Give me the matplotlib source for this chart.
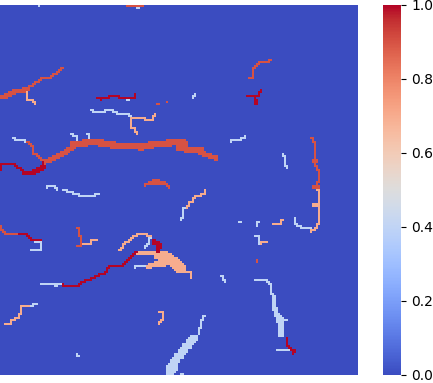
import numpy as np
import matplotlib
matplotlib.use('Agg')
import matplotlib.pyplot as plt
import seaborn as sns

n_rows = 185
n_cols = 179

# mask values
LIGHT = 0.4
PEACH = 0.7
ORANGE = 0.9
RED = 1.0

# traces as (col, row) vertices, suffix = width in cells
light_1 = [
    [(19, 0), (19, 0)],
    [(68, 1), (69, 1)],
    [(63, 47), (64, 47)],
    [(45, 52), (46, 53), (52, 53), (53, 52), (55, 52.5), (57, 53.5), (59, 54.5), (64, 54.5), (65, 55.5)],
    [(6.5, 66), (7, 67), (12.5, 67), (12.5, 68)],
    [(35, 64.5), (38, 65.5), (38.5, 69)],
    [(43, 64), (44.5, 64), (44.5, 69)],
    [(23, 91), (27, 90.5), (28, 92)],
    [(31.5, 92.5), (35, 93.5), (39, 95), (45, 95.5), (49, 94.5)],
    [(96, 46.5), (97.5, 44.5)],
    [(115.5, 68), (120, 67.5), (122, 66), (122.5, 65)],
    [(141, 74.5), (142.5, 76.5), (142.5, 80), (143.5, 81.5)],
    [(147.5, 106.5), (147, 109.5), (151, 111.5), (155, 112)],
    [(93, 101), (91, 102.5), (91, 106.5), (90, 107)],
    [(119, 108), (120, 108)],
    [(129, 108), (128, 110)],
    [(127, 115.5), (129, 116), (129, 119.5)],
    [(110, 135), (111, 135.5), (112, 138)],
    [(127.5, 137.5), (133, 137.5), (135, 140), (136, 145)],
    [(138, 172), (144, 172)],
    [(90, 184), (91, 184)],
    [(17, 118.5), (20.5, 118.5), (20.5, 122.5), (15, 122.5)],
    [(75, 116), (74.5, 119), (72.5, 121.5)],
    [(67.5, 131), (70, 130), (73, 130)],
    [(20, 139.5), (30.5, 139.5)],
    [(27, 140.5), (28, 140.5)],
    [(14.5, 150), (16.5, 150), (18.5, 149)],
    [(38, 174), (39, 175.5)],
    [(140, 157), (143, 157)],
    [(102.5, 155.5), (100.5, 158.5), (99.5, 164)],
]
light_2 = [
    [(136, 145), (136.5, 151), (138, 155)],
]
light_3 = [
    [(139, 156), (140, 158), (140.5, 164)],
    [(97, 166), (94, 170), (90, 175), (86, 180)],
]
light_4 = [
    [(86, 180), (84, 183)],
]

peach_1 = [
    [(12, 43.5), (13, 44), (13, 47), (16, 48), (17, 49)],
    [(65, 56), (72, 56), (73, 57.5), (76, 57), (77, 55.5), (77.5, 54)],
    [(65, 56), (65, 61), (67, 62), (68, 64)],
    [(158.5, 92.5), (159.5, 94), (159, 105.5), (159.5, 108.5), (158.5, 111.5), (155, 113)],
    [(102.5, 92.5), (102.5, 94.5), (98.5, 95.5), (96, 98), (93.5, 101)],
    [(136, 109), (140, 109), (141, 107)],
    [(130, 119), (133, 118.5)],
    [(90, 131), (92.5, 133), (95.5, 134), (95.5, 136)],
    [(41, 119.5), (45, 119.5), (45.5, 117.5), (48, 117.5)],
    [(59.5, 122.5), (62.5, 119), (66, 116.5), (70, 114), (75, 115.5)],
    [(2.5, 159.5), (5, 159), (5.5, 157.5), (8.5, 156.5), (10, 154), (11, 150), (14, 150)],
    [(79, 153), (81.5, 153), (81.5, 157.5), (79.5, 159.5)],
]
peach_2 = [
    [(156, 99.5), (158, 99.5)],
    [(68.5, 123.5), (78, 123.5)],
    [(73.5, 130.5), (80, 128)],
]
peach_4 = [
    [(78, 124), (83, 125.5), (87, 129), (90, 131.5)],
    [(80, 128), (84, 126.5)],
]

orange_1 = [
    [(63, 0), (71, 0)],
    [(13, 41.5), (17, 39.5), (20, 37), (25, 36), (29, 33.5), (31, 31.5), (31, 31)],
    [(13, 68), (14, 69), (16, 71), (16.5, 74.5), (18, 75), (21, 77.5), (22, 78)],
    [(78, 49), (79, 49)],
    [(83, 48), (83, 48)],
    [(124, 36.5), (126, 36), (127, 31), (129, 29), (134, 28.5), (135, 27)],
    [(155, 66), (156.5, 66.5), (157, 69), (157.5, 80), (158.5, 81), (159.5, 84), (159, 88), (158, 90.5)],
    [(128, 127), (128, 128)],
    [(0, 110.5), (1, 113), (2.5, 114.5), (8, 114.5)],
    [(38, 111.5), (39.5, 112), (40.5, 120), (38.5, 120.5)],
    [(72, 90), (76, 88), (78, 87.5), (82, 89), (84, 91)],
]
orange_2 = [
    [(0, 45.5), (4, 44.5), (6, 43), (13, 41.5)],
    [(21.5, 78), (26, 76), (33, 72.5), (36.5, 70)],
    [(156, 77), (157, 77)],
    [(156, 90), (158, 90)],
    [(100, 73.5), (107, 76)],
    [(75, 88.5), (81, 88.5)],
]
orange_3 = [
    [(36.5, 70), (42, 69), (47, 68.5), (56, 70), (70, 71), (78, 69.5), (90, 68.5)],
    [(93, 72), (100, 73)],
]
orange_5 = [
    [(90, 69.5), (91, 70.5)],
]

red_1 = [
    [(48.5, 46), (50, 47), (54, 46), (57, 45), (59, 46), (67, 46), (67, 44.5)],
    [(0, 82), (0.5, 79.5), (3, 79), (6, 79), (8, 80.5), (11, 82.5)],
    [(21.5, 80.5), (21.5, 78)],
    [(123, 45), (125, 45), (127, 46), (129, 45), (130.5, 42)],
    [(143.5, 166), (144, 171), (146, 172.5), (147.5, 173), (146, 174)],
    [(9.5, 114), (12, 114), (14, 115.5), (15.5, 117.5), (20, 117.5)],
    [(31, 139.5), (32.5, 140.5), (39, 140.5), (41, 138.5), (45, 137), (48, 135.5),
     (52.5, 134), (54, 131), (61, 130), (64, 127.5), (66.5, 125), (68, 123.5)],
]
red_2 = [
    [(11, 83), (16, 83), (19, 81.5), (21, 80.5)],
    [(127, 47), (127, 48)],
    [(76, 117.5), (79, 120), (78.5, 122.5)],
]


def paint(grid, traces, value, width):
    # stamp a square of width cells along every trace, stairs stay 4-connected
    lo = (width - 1) // 2
    for trace in traces:
        for (c0, r0), (c1, r1) in zip(trace[:-1], trace[1:]):
            steps = int(max(abs(c1 - c0), abs(r1 - r0)) * 2) + 1
            prev_r = int(r0)
            for t in np.linspace(0, 1, steps + 1):
                c = int(c0 + (c1 - c0) * t)
                r = int(r0 + (r1 - r0) * t)
                for rr in (prev_r, r):
                    grid[max(rr - lo, 0):rr - lo + width, max(c - lo, 0):c - lo + width] = value
                prev_r = r


mask = np.zeros((n_rows, n_cols))
paint(mask, light_1, LIGHT, 1)
paint(mask, light_2, LIGHT, 2)
paint(mask, light_3, LIGHT, 3)
paint(mask, light_4, LIGHT, 4)
paint(mask, peach_1, PEACH, 1)
paint(mask, peach_2, PEACH, 2)
paint(mask, peach_4, PEACH, 4)
paint(mask, orange_1, ORANGE, 1)
paint(mask, orange_2, ORANGE, 2)
paint(mask, orange_3, ORANGE, 3)
paint(mask, orange_5, ORANGE, 5)
paint(mask, red_1, RED, 1)
paint(mask, red_2, RED, 2)

W, H = 433, 383
fig = plt.figure(figsize=(W / 100, H / 100), dpi=100)
ax = fig.add_axes([0, (H - 375) / H, 358 / W, 370 / H])
cax = fig.add_axes([383 / W, (H - 375) / H, 18.3 / W, 370 / H])

sns.heatmap(mask, cmap='coolwarm', vmin=0, vmax=1, xticklabels=False, yticklabels=False,
            ax=ax, cbar_ax=cax)

fig.savefig('out.png', dpi=100)
